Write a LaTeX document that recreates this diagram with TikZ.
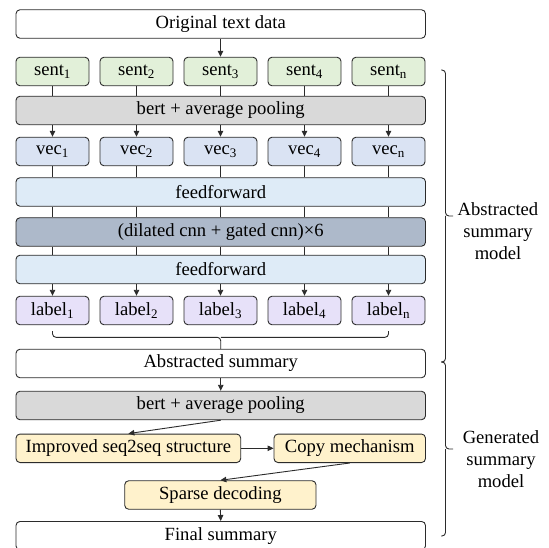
\documentclass[tikz,border=0pt]{standalone}
\usepackage{fontspec}
\setmainfont{Liberation Serif}
\usetikzlibrary{arrows.meta}

\definecolor{edge}{HTML}{2B2B2B}
\definecolor{sentfill}{HTML}{E2F0D9}
\definecolor{bertfill}{HTML}{D9D9D9}
\definecolor{vecfill}{HTML}{DAE3F3}
\definecolor{fffill}{HTML}{DEEBF7}
\definecolor{cnnfill}{HTML}{ADB9CA}
\definecolor{labelfill}{HTML}{E7E1F9}
\definecolor{genfill}{HTML}{FFF2CC}

\tikzset{
  box/.style={draw=edge, line width=0.9pt, rounded corners=4pt, inner sep=0pt,
              minimum height=28.5pt, anchor=center},
  wide/.style={box, minimum width=409.5pt},
  small/.style={box, minimum width=73pt},
  link/.style={draw=edge, line width=0.9pt},
  flow/.style={link, -{Triangle[length=6pt,width=5.5pt]}},
  curly/.style={draw=edge, line width=0.9pt, rounded corners=3.5pt},
}

\begin{document}
\begin{tikzpicture}[x=1pt, y=-1pt, font=\fontsize{18.6}{22}\selectfont]
\useasboundingbox (0,0) rectangle (549,548);

% top input
\node[wide, fill=white] (orig) at (220.75,24) {Original text data};

% per-sentence columns
\foreach \i/\x/\s in {1/52.5/1, 2/136.5/2, 3/220.5/3, 4/304.5/4, 5/388.5/n} {
  \node[small, fill=sentfill]  (s\i) at (\x,71.5)  {sent\textsubscript{\s}};
  \node[small, fill=vecfill]   (v\i) at (\x,151.5) {vec\textsubscript{\s}};
  \node[small, fill=labelfill] (l\i) at (\x,310.5) {label\textsubscript{\s}};
}

\node[wide, fill=bertfill] (bert) at (220.75,110.5) {bert + average pooling};
\node[wide, fill=fffill]   (ff1)  at (220.75,192)   {feedforward};
\node[wide, fill=cnnfill]  (cnn)  at (220.75,232)   {(dilated cnn + gated cnn)×6};
\node[wide, fill=fffill]   (ff2)  at (220.75,269.5) {feedforward};

% abstracted-summary stage and generation stage
\node[wide, fill=white]    (abs)   at (220.75,363.5) {Abstracted summary};
\node[wide, fill=bertfill] (bert2) at (220.75,405.5) {bert + average pooling};
\node[box, fill=genfill, minimum width=224.7pt] (imp)    at (128.35,448.3) {Improved seq2seq structure};
\node[box, fill=genfill, minimum width=151.5pt] (copy)   at (349.75,448.3) {Copy mechanism};
\node[box, fill=genfill, minimum width=191.3pt] (sparse) at (220.35,495)   {Sparse decoding};
\node[wide, fill=white]    (final) at (220.75,535.7) {Final summary};

% connectors
\draw[flow] (orig.south -| s3) -- (s3.north);
\foreach \i in {1,...,5} {
  \draw[link] (s\i.south) -- (s\i.south |- bert.north);
  \draw[flow] (v\i.north |- bert.south) -- (v\i.north);
  \draw[link] (v\i.south) -- (v\i.south |- ff1.north);
  \draw[link] (ff1.south -| v\i) -- (cnn.north -| v\i);
  \draw[link] (cnn.south -| v\i) -- (ff2.north -| v\i);
  \draw[flow] (ff2.south -| l\i) -- (l\i.north);
}

% brace gathering the labels
\path (l1.south) ++(0,6) coordinate (lbl);
\path (l5.south) ++(0,6) coordinate (lbr);
\path (abs.north) ++(0,-11.5) coordinate (lbm);
\draw[curly] (lbl) |- (lbm) -- (abs.north);
\draw[curly] (lbr) |- (lbm);

\draw[flow] (abs.south) -- (bert2.north);
\draw[flow] (bert2.south) -- (imp.north);
\draw[flow] (imp.east) -- (copy.west);
\draw[flow] (copy.south) -- (sparse.north);
\draw[flow] (sparse.south) -- (final.north);

% side braces with their captions
\coordinate (b1t) at (441,70);
\coordinate (b1m) at (453,216);
\coordinate (b12) at (441,362);
\coordinate (b2m) at (453,449);
\coordinate (b2b) at (441,536);
\draw[curly] (b1t) -| ([xshift=-7.5pt]b1m) -- (b1m);
\draw[curly] (b12) -| ([xshift=-7.5pt]b1m);
\draw[curly] (b12) -| ([xshift=-7.5pt]b2m) -- (b2m);
\draw[curly] (b2b) -| ([xshift=-7.5pt]b2m);

\node[align=center, anchor=center] (capA) at (498,231) {Abstracted\\summary\\model};
\node[align=center, anchor=center] (capG) at (501,459.5) {Generated\\summary\\model};
\end{tikzpicture}
\end{document}
